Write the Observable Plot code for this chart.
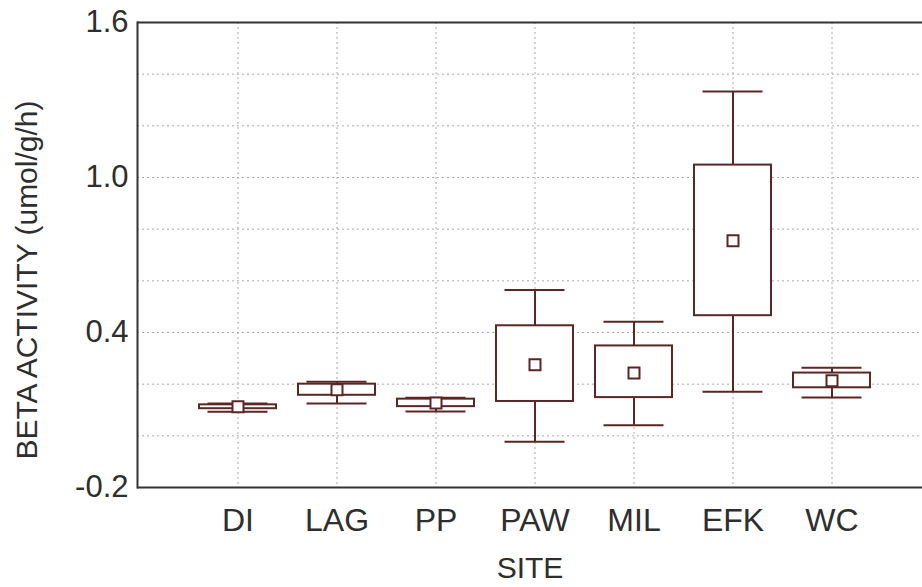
<!DOCTYPE html>
<html>
<head>
<meta charset="utf-8">
<script src="https://cdn.jsdelivr.net/npm/d3@7"></script>
<script src="https://cdn.jsdelivr.net/npm/@observablehq/plot@0.6"></script>
<style>
  html, body { margin: 0; padding: 0; background: #fff; }
  #chart svg { display: block; }
</style>
</head>
<body>
<div id="chart"></div>
<script>
const sites = ["DI", "LAG", "PP", "PAW", "MIL", "EFK", "WC"];
const means = [0.113, 0.178, 0.127, 0.275, 0.243, 0.755, 0.213];
const boxLow = [0.105, 0.157, 0.113, 0.133, 0.148, 0.465, 0.186];
const boxHigh = [0.120, 0.200, 0.142, 0.426, 0.348, 1.048, 0.243];
const whiskerLow = [0.093, 0.125, 0.094, -0.023, 0.041, 0.171, 0.148];
const whiskerHigh = [0.125, 0.209, 0.147, 0.565, 0.442, 1.333, 0.264];
const yTickLabels = [1.6, 1.0, 0.4, -0.2];
const yGridValues = [0.0, 0.2, 0.4, 0.6, 0.8, 1.0, 1.2, 1.4];

const rows = sites.map((s, i) => ({
  site: s, mean: means[i], q1: boxLow[i], q3: boxHigh[i], lo: whiskerLow[i], hi: whiskerHigh[i]
}));

const boxColor = "#5a2626";
const frameColor = "#333";
const gridColor = "#aaaaaa";
const font = "'Liberation Sans', Arial, sans-serif";

const chart = Plot.plot({
  width: 922,
  height: 587,
  marginLeft: 137,
  marginRight: 0,
  marginTop: 22,
  marginBottom: 100,
  style: { fontFamily: font, fontSize: "30px", color: "#2e2e2e", background: "#fff" },
  x: { type: "band", domain: sites, range: [186.3, 881.7], paddingInner: 0.225, paddingOuter: 0.1125 },
  y: { domain: [-0.2, 1.6] },
  marks: [
    Plot.gridY(yGridValues, { stroke: gridColor, strokeOpacity: 1, strokeWidth: 1, strokeDasharray: "2,3" }),
    Plot.gridX(sites, { stroke: gridColor, strokeOpacity: 1, strokeWidth: 1, strokeDasharray: "2,3" }),
    Plot.axisY(yTickLabels, { tickSize: 0, tickPadding: 9, fontSize: 31, tickFormat: d => d.toFixed(1), label: null }),
    Plot.axisX({ tickSize: 0, tickPadding: 21, fontSize: 32, label: null }),
    Plot.text(["BETA ACTIVITY (umol/g/h)"], { frameAnchor: "left", rotate: -90, dx: -110, dy: 25, fontSize: 30, fill: "#2e2e2e", textAnchor: "middle", lineAnchor: "middle" }),
    Plot.text(["SITE"], { frameAnchor: "bottom", dy: 81, fontSize: 30, fill: "#2e2e2e", lineAnchor: "middle" }),
    // whiskers
    Plot.ruleX(rows, { x: "site", y1: "lo", y2: "q1", stroke: boxColor, strokeWidth: 2 }),
    Plot.ruleX(rows, { x: "site", y1: "q3", y2: "hi", stroke: boxColor, strokeWidth: 2 }),
    Plot.tickY(rows, { x: "site", y: "lo", stroke: boxColor, strokeWidth: 2, insetLeft: 8.5, insetRight: 8.5 }),
    Plot.tickY(rows, { x: "site", y: "hi", stroke: boxColor, strokeWidth: 2, insetLeft: 8.5, insetRight: 8.5 }),
    // boxes
    Plot.barY(rows, { x: "site", y1: "q1", y2: "q3", fill: "white", stroke: boxColor, strokeWidth: 2 }),
    // mean markers
    Plot.dot(rows, { x: "site", y: "mean", symbol: "square", r: 6.2, fill: "white", stroke: boxColor, strokeWidth: 2 }),
    // frame
    Plot.ruleY([1.6, -0.2], { stroke: frameColor, strokeWidth: 2 }),
    Plot.frame({ anchor: "left", stroke: frameColor, strokeWidth: 2 })
  ]
});
document.getElementById("chart").appendChild(chart);
</script>
</body>
</html>
